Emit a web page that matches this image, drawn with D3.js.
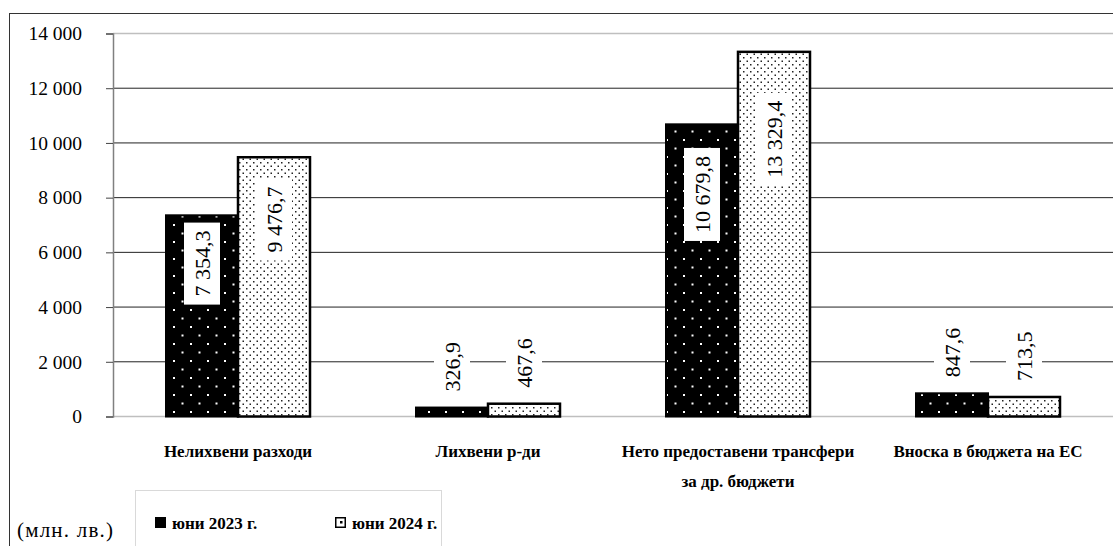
<!DOCTYPE html>
<html><head><meta charset="utf-8">
<script src="https://cdn.jsdelivr.net/npm/d3@7"></script>
<style>
html,body{margin:0;padding:0;background:#fff;}
svg{display:block;}
</style></head>
<body><svg id="c" width="1113" height="546"></svg>
<script>
const categories = [["Нелихвени разходи"], ["Лихвени р-ди"], ["Нето предоставени трансфери", "за др. бюджети"], ["Вноска в бюджета на ЕС"]];
const seriesNames = ["юни 2023 г.", "юни 2024 г."];
const values2023 = [7354.3, 326.9, 10679.8, 847.6];
const values2024 = [9476.7, 467.6, 13329.4, 713.5];
const yTicks = [0, 2000, 4000, 6000, 8000, 10000, 12000, 14000];
const unitLabel = "(млн. лв.)";

const FONT = "'Liberation Serif', 'DejaVu Serif', serif";
const svg = d3.select("#c");
const W = 1113, H = 546;
svg.append("rect").attr("width", W).attr("height", H).attr("fill", "#fff");

const defs = svg.append("defs");
const p1 = defs.append("pattern").attr("id", "pat1").attr("patternUnits", "userSpaceOnUse")
  .attr("width", 17).attr("height", 17);
p1.append("rect").attr("width", 17).attr("height", 17).attr("fill", "#000");
p1.append("rect").attr("x", 3).attr("y", 3).attr("width", 2).attr("height", 2).attr("fill", "#fff");
p1.append("rect").attr("x", 11.5).attr("y", 11.5).attr("width", 2).attr("height", 2).attr("fill", "#fff");
const p2 = defs.append("pattern").attr("id", "pat2").attr("patternUnits", "userSpaceOnUse")
  .attr("width", 7).attr("height", 7);
p2.append("rect").attr("width", 7).attr("height", 7).attr("fill", "#fff");
p2.append("rect").attr("x", 1).attr("y", 1).attr("width", 1.5).attr("height", 1.5).attr("fill", "#222");
p2.append("rect").attr("x", 4.5).attr("y", 4.5).attr("width", 1.5).attr("height", 1.5).attr("fill", "#222");

// outer border
svg.append("rect").attr("x", 9.5).attr("y", 13.5).attr("width", 1200).attr("height", 700)
  .attr("fill", "none").attr("stroke", "#333").attr("stroke-width", 1);

const y = d3.scaleLinear().domain([0, 14000]).range([416.5, 33.5]);
const x = d3.scaleBand().domain(d3.range(categories.length)).range([113, 1113]).padding(0);
const xs = d3.scaleBand().domain([0, 1]).range([53, 197]).padding(0);

const loc = d3.formatLocale({decimal: ",", thousands: "\u00a0", grouping: [3], currency: ["", ""]});
const fTick = loc.format(",.0f");
const fVal = loc.format(",.1f");

// gridlines
svg.append("g").selectAll("line").data(yTicks).join("line")
  .attr("x1", 113).attr("x2", 1113)
  .attr("y1", d => y(d)).attr("y2", d => y(d))
  .attr("stroke", d => (d === 0 || d === 14000) ? "#bfbfbf" : "#222")
  .attr("stroke-width", d => (d === 0 || d === 14000) ? 1.5 : 1);

// y axis
const yAxis = d3.axisLeft(y).tickValues(yTicks).tickSize(7).tickPadding(24).tickFormat(fTick);
const ga = svg.append("g").attr("transform", "translate(113,0)").call(yAxis);
ga.attr("font-family", null).attr("font-size", null);
ga.select(".domain").attr("stroke", "#808080").attr("stroke-width", 1.5);
ga.selectAll(".tick line").attr("stroke", "#444");
ga.selectAll(".tick text").style("font-size", "19.5px").attr("fill", "#000");

// bars
const series = [values2023, values2024];
const fills = ["url(#pat1)", "url(#pat2)"];
const strokeW = [2, 2.5];
const gb = svg.append("g");
series.forEach((vals, si) => {
  gb.selectAll(null).data(vals).join("rect")
    .attr("x", (d, i) => x(i) + xs(si))
    .attr("y", d => y(d))
    .attr("width", xs.bandwidth())
    .attr("height", d => y(0) - y(d))
    .attr("fill", fills[si])
    .attr("stroke", "#000")
    .attr("stroke-width", strokeW[si]);
});

// labels
const gl = svg.append("g");
series.forEach((vals, si) => {
  vals.forEach((v, i) => {
    const cx = x(i) + xs(si) + xs.bandwidth() / 2;
    const g = gl.append("g");
    const rect = g.append("rect").attr("fill", "#fff");
    const t = g.append("text").text(fVal(v))
      .style("font-family", FONT).style("font-size", "22px").attr("fill", "#000")
      .attr("text-anchor", "middle").attr("dominant-baseline", "central");
    const len = t.node().getComputedTextLength();
    const h = y(0) - y(v);
    let cy;
    if (h > 100) cy = y(v) + 0.24 * h;
    else cy = y(v) - 16 - len / 2;
    t.attr("transform", `translate(${cx},${cy}) rotate(-90)`);
    rect.attr("x", cx - 18).attr("y", cy - len / 2 - 8).attr("width", 36).attr("height", len + 16);
  });
});

// category labels
const gc = svg.append("g");
categories.forEach((lines, i) => {
  lines.forEach((ln, k) => {
    gc.append("text").text(ln)
      .attr("x", x(i) + x.bandwidth() / 2).attr("y", 451 + k * 30)
      .attr("text-anchor", "middle").attr("dominant-baseline", "central")
      .style("font-weight", "bold").style("font-size", "17px").attr("fill", "#000");
  });
});

// legend
svg.append("rect").attr("x", 135.5).attr("y", 490.5).attr("width", 306).attr("height", 80)
  .attr("fill", "#fff").attr("stroke", "#d9d9d9");
const legX = [155, 335];
seriesNames.forEach((n, si) => {
  if (si === 0) {
    svg.append("rect").attr("x", legX[si]).attr("y", 517).attr("width", 11).attr("height", 11).attr("fill", "#000");
  } else {
    svg.append("rect").attr("x", legX[si] + 0.75).attr("y", 517.75).attr("width", 9.5).attr("height", 9.5)
      .attr("fill", "#fff").attr("stroke", "#000").attr("stroke-width", 1.5);
    svg.append("rect").attr("x", legX[si] + 5).attr("y", 521).attr("width", 2.5).attr("height", 2.5).attr("fill", "#000");
  }
  svg.append("text").text(n).attr("x", legX[si] + 17).attr("y", 523)
    .attr("dominant-baseline", "central").style("font-weight", "bold").style("font-size", "17px").attr("fill", "#000");
});

svg.append("text").text(unitLabel).attr("x", 17).attr("y", 530)
  .attr("dominant-baseline", "central").style("font-size", "21px").style("letter-spacing", "1.2px").attr("fill", "#000");

svg.selectAll("text").style("font-family", FONT);
</script></body></html>
